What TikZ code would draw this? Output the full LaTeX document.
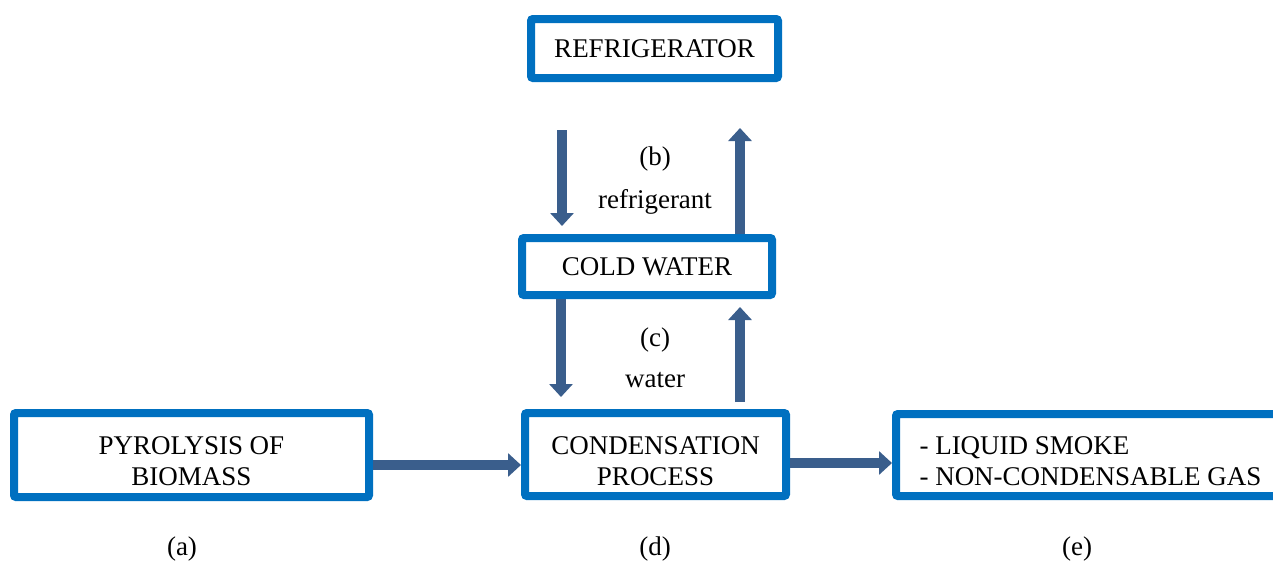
\documentclass[tikz,border=0pt]{standalone}
\usepackage{fontspec}
\setmainfont{Liberation Serif}
\usetikzlibrary{arrows.meta,calc}
\definecolor{boxblue}{HTML}{0070C0}
\definecolor{arrblue}{HTML}{3A5E8C}
\begin{document}
\begin{tikzpicture}[x=1pt,y=-1pt,
  box/.style={draw=boxblue,line width=8pt,rounded corners=2pt,fill=white,
    inner sep=0pt,align=center,font=\fontsize{27}{31}\selectfont},
  twoline/.style={text height=61pt,text depth=0pt},
  arr/.style={draw=arrblue,line width=10pt,-{Triangle[width=23pt,length=13pt]},arrblue},
  lbl/.style={inner sep=0pt,font=\fontsize{27}{31}\selectfont}]
\useasboundingbox (0,0) rectangle (1273,560);
\node[box,minimum width=247pt,minimum height=59pt] (fridge) at (654.5,48.5) {REFRIGERATOR};
\node[box,minimum width=250pt,minimum height=57pt] (cold) at (647,266.5) {COLD WATER};
\node[box,twoline,minimum width=355pt,minimum height=84pt] (pyro) at (191.5,455) {PYROLYSIS OF\\BIOMASS};
\node[box,twoline,minimum width=261pt,minimum height=83pt] (cond) at (655.5,454.5) {CONDENSATION\\PROCESS};
\node[box,twoline,minimum width=389pt,minimum height=82pt,align=left] (out) at (1090.5,455) {- LIQUID SMOKE\\- NON-CONDENSABLE GAS};
% arrows
\draw[arr] ($(pyro.east)+(0,10)$) -- ($(cond.west)+(0,10.5)$);
\draw[arr] ($(cond.east)+(0,8.5)$) -- ($(out.west)+(0,8)$);
\coordinate (bin) at ($(fridge.south)+(-92.5,48)$);
\coordinate (bout) at ($(fridge.south)+(85.5,46)$);
\draw[arr] (bin) -- ($(cold.north)+(-85,-8)$);
\draw[arr] ($(cold.north)+(93,0)$) -- (bout);
\draw[arr] ($(cold.south)+(-86,0)$) -- ($(cond.north)+(-94.5,-12)$);
\draw[arr] ($(cond.north)+(84.5,-7)$) -- ($(cold.south)+(93,8)$);
% labels
\node[lbl] (lb) at (655,159) {(b)};
\node[lbl] (lr) at (655,202) {refrigerant};
\node[lbl] (lc) at (655,340) {(c)};
\node[lbl] (lw) at (655,380) {water};
\node[lbl] (la) at (182,549) {(a)};
\node[lbl] (ld) at (655,549) {(d)};
\node[lbl] (le) at (1077,549) {(e)};
\end{tikzpicture}
\end{document}
